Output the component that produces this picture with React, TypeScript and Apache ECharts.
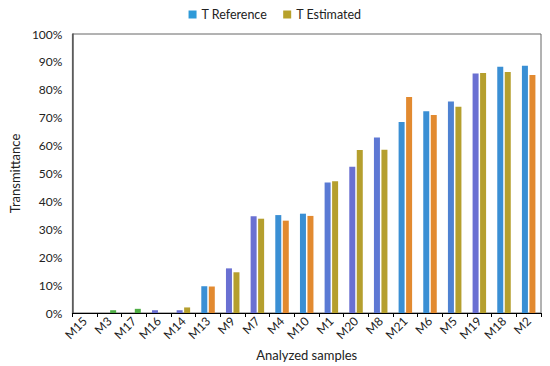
import React, { useEffect, useRef } from "react";
import * as echarts from "echarts";

const categories = ["M15", "M3", "M17", "M16", "M14", "M13", "M9", "M7", "M4", "M10", "M1", "M20", "M8", "M21", "M6", "M5", "M19", "M18", "M2"];
const tReference = [0, 0, 0, 1.0, 1.0, 9.6, 16.0, 34.7, 35.1, 35.6, 46.8, 52.4, 62.9, 68.5, 72.3, 75.8, 85.8, 88.3, 88.6];
const tEstimated = [0, 1.0, 1.5, 0, 2.0, 9.5, 14.6, 33.8, 33.1, 34.8, 47.2, 58.4, 58.5, 77.4, 71.0, 73.9, 86.0, 86.4, 85.3];
const yTicks = [0, 10, 20, 30, 40, 50, 60, 70, 80, 90, 100];

// per-bar fill colours as seen in the picture
const BLUE = "#3a8fd4";
const PURPLE = "#6a70d2";
const OLIVE = "#b59f2e";
const ORANGE = "#e28a30";
const GREEN = "#4fae45";
const refColors = [BLUE, BLUE, BLUE, PURPLE, PURPLE, BLUE, PURPLE, PURPLE, BLUE, BLUE, "#5a7ad4", PURPLE, "#5e78d4", BLUE, BLUE, "#4f82d2", PURPLE, BLUE, BLUE];
const estColors = [OLIVE, GREEN, GREEN, OLIVE, OLIVE, ORANGE, OLIVE, OLIVE, ORANGE, ORANGE, OLIVE, OLIVE, OLIVE, ORANGE, ORANGE, OLIVE, OLIVE, OLIVE, ORANGE];

const FONT = "Lato, 'Open Sans', sans-serif";

export default function App() {
  const ref = useRef<HTMLDivElement>(null);
  useEffect(() => {
    if (!ref.current) return;
    const chart = echarts.init(ref.current, null, { renderer: "svg" });
    chart.setOption({
      animation: false,
      textStyle: { fontFamily: FONT },
      legend: {
        top: 3,
        left: "center",
        icon: "rect",
        itemWidth: 8,
        itemHeight: 8,
        itemGap: 16,
        textStyle: { fontSize: 12.5, color: "#222", fontFamily: FONT },
        data: [
          { name: "T Reference", itemStyle: { color: "#2e9ad8" } },
          { name: "T Estimated", itemStyle: { color: "#b7a12a" } },
        ],
      },
      grid: {
        left: 52,
        right: 9,
        top: 34,
        bottom: 52,
        show: true,
        borderColor: "#666",
        borderWidth: 1,
      },
      xAxis: {
        type: "category",
        data: categories,
        name: "Analyzed samples",
        nameLocation: "middle",
        nameGap: 33,
        nameTextStyle: { fontSize: 13, color: "#222", fontFamily: FONT },
        axisLine: { lineStyle: { color: "#000", width: 1.2 } },
        axisTick: { show: true, length: 4, lineStyle: { color: "#000" } },
        axisLabel: { rotate: 45, fontSize: 12, color: "#222", margin: 6, interval: 0, fontFamily: FONT },
      },
      yAxis: {
        type: "value",
        min: 0,
        max: 100,
        interval: 10,
        name: "Transmittance",
        nameLocation: "middle",
        nameGap: 38,
        nameTextStyle: { fontSize: 13, color: "#222", fontFamily: FONT },
        axisLine: { show: true, lineStyle: { color: "#555", width: 1.5 } },
        axisTick: { show: false },
        splitLine: { show: false },
        axisLabel: {
          fontSize: 12,
          color: "#222",
          margin: 10,
          fontFamily: FONT,
          formatter: (v: number) => (yTicks.includes(v) ? v + "%" : ""),
        },
      },
      series: [
        {
          name: "T Reference",
          type: "bar",
          barWidth: 6,
          barGap: "25%",
          itemStyle: { color: "#2e9ad8" },
          data: tReference.map((v, i) => ({ value: v, itemStyle: { color: refColors[i] } })),
        },
        {
          name: "T Estimated",
          type: "bar",
          barWidth: 6,
          itemStyle: { color: "#b7a12a" },
          data: tEstimated.map((v, i) => ({ value: v, itemStyle: { color: estColors[i] } })),
        },
      ],
    });
    return () => chart.dispose();
  }, []);
  return <div ref={ref} style={{ width: 550, height: 366, position: "absolute", left: 0, top: 0, background: "#fff" }} />;
}
